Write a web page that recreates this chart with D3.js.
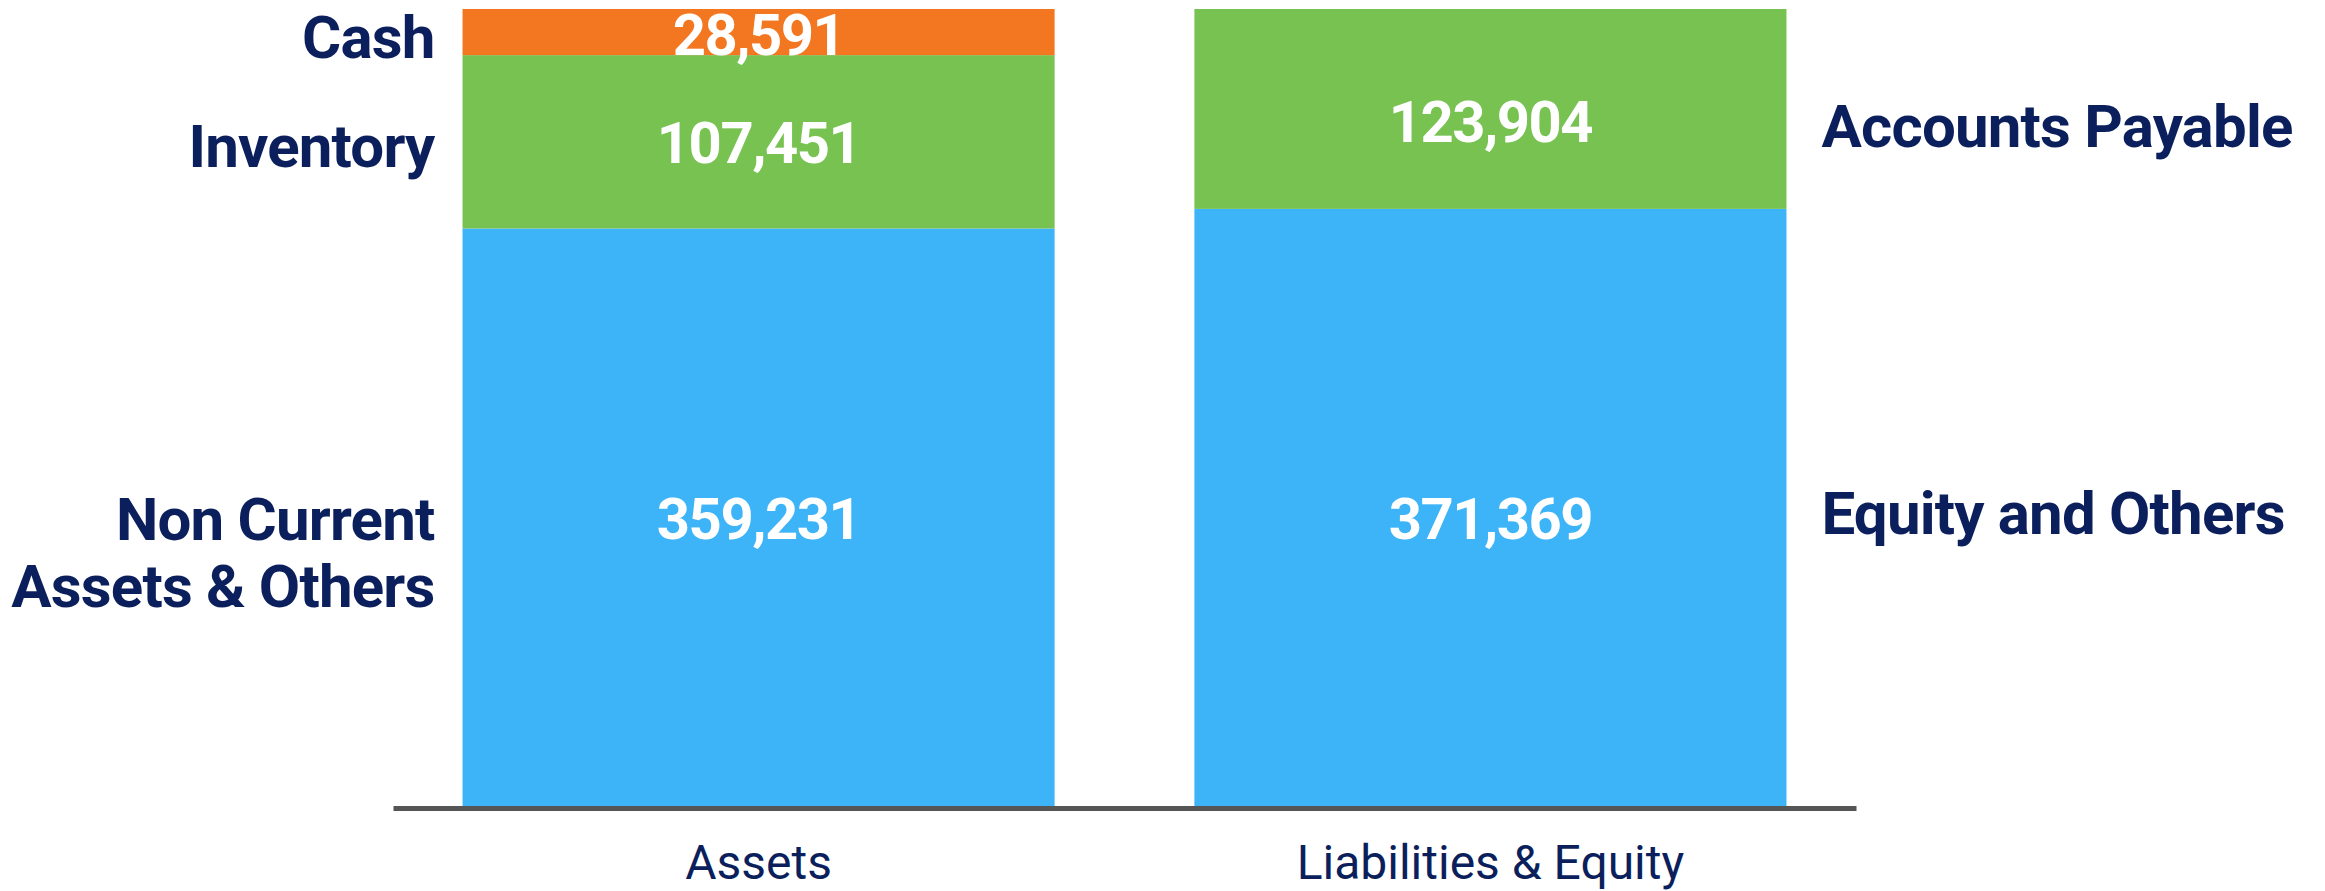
<!DOCTYPE html>
<html>
<head>
<meta charset="utf-8">
<script src="https://cdn.jsdelivr.net/npm/d3@7"></script>
<style>
  body { margin: 0; background: #fff; }
  svg text { font-family: Roboto, "Open Sans", sans-serif; }
</style>
</head>
<body>
<div id="plot"></div>
<script>
var w = 2325;
var h = 891;

// data
var columns = ["Assets", "Liabilities & Equity"];
var assetKeys = ["Non Current Assets & Others", "Inventory", "Cash"];
var assetValues = [359231, 107451, 28591];
var liabKeys = ["Equity and Others", "Accounts Payable"];
var liabValues = [371369, 123904];

var navy = "#0b1f5c";
var colors = {
	"Cash": "#f37721",
	"Inventory": "#77c250",
	"Non Current Assets & Others": "#3db3f8",
	"Accounts Payable": "#77c250",
	"Equity and Others": "#3db3f8"
};

// small nudges (px) so labels sit where the original put them
var valShift = { "Cash": 2, "Accounts Payable": 12, "Equity and Others": 10 };
var catShift = { "Cash": 4, "Inventory": 4, "Accounts Payable": 16, "Equity and Others": 4 };

var total = d3.sum(assetValues);

var xScale = d3.scaleBand()
	.domain(columns)
	.range([393, 1856])
	.paddingInner(0.191)
	.paddingOuter(0.095);

var yScale = d3.scaleLinear()
	.domain([0, total])
	.range([808, 9]);

// build stacked segments from the arrays
function stackUp(col, keys, values) {
	var y0 = 0;
	return keys.map(function(k, i) {
		var seg = { col: col, key: k, value: values[i], y0: y0, y1: y0 + values[i] };
		y0 += values[i];
		return seg;
	});
}
var segments = stackUp("Assets", assetKeys, assetValues)
	.concat(stackUp("Liabilities & Equity", liabKeys, liabValues));

var svg = d3.select("#plot").append("svg").attr("width", w).attr("height", h);

svg.selectAll("rect.seg")
	.data(segments)
	.enter()
	.append("rect")
	.attr("class", "seg")
	.attr("x", function(d) { return xScale(d.col); })
	.attr("y", function(d) { return yScale(d.y1); })
	.attr("width", xScale.bandwidth())
	.attr("height", function(d) { return yScale(d.y0) - yScale(d.y1); })
	.attr("fill", function(d) { return colors[d.key]; });

// value labels
svg.selectAll("text.val")
	.data(segments)
	.enter()
	.append("text")
	.attr("class", "val")
	.attr("x", function(d) { return xScale(d.col) + xScale.bandwidth() / 2; })
	.attr("y", function(d) { return (yScale(d.y0) + yScale(d.y1)) / 2 + (valShift[d.key] || 0); })
	.attr("dy", "0.36em")
	.attr("text-anchor", "middle")
	.attr("fill", "#fff")
	.attr("font-size", 58)
	.attr("font-weight", 700)
	.attr("letter-spacing", -1.5)
	.text(function(d) { return d3.format(",")(d.value); });

// category labels, left for assets, right for liabilities
var labelLines = {
	"Non Current Assets & Others": ["Non Current", "Assets & Others"]
};
svg.selectAll("text.cat")
	.data(segments)
	.enter()
	.append("text")
	.attr("class", "cat")
	.attr("x", function(d) {
		return d.col == "Assets" ? xScale(d.col) - 28 : xScale(d.col) + xScale.bandwidth() + 35;
	})
	.attr("y", function(d) { return (yScale(d.y0) + yScale(d.y1)) / 2 + (catShift[d.key] || 0); })
	.attr("text-anchor", function(d) { return d.col == "Assets" ? "end" : "start"; })
	.attr("fill", navy)
	.attr("font-size", 60)
	.attr("font-weight", 700)
	.attr("letter-spacing", -0.8)
	.each(function(d) {
		var lines = labelLines[d.key] || [d.key];
		var t = d3.select(this);
		lines.forEach(function(l, i) {
			t.append("tspan")
				.attr("x", t.attr("x"))
				.attr("dy", i == 0 ? "0.36em" : "1.12em")
				.text(l);
		});
	});

var xAxis = d3.axisBottom(xScale).tickSize(0).tickSizeOuter(0);
var gx = svg.append("g")
	.attr("transform", "translate(0," + yScale(0) + ")")
	.call(xAxis);
gx.select(".domain").attr("stroke", "#555").attr("stroke-width", 5);
gx.selectAll("text")
	.attr("y", 71)
	.attr("dy", "0")
	.attr("fill", navy)
	.attr("font-size", 48)
	.attr("font-family", "Roboto, sans-serif");
</script>
</body>
</html>
